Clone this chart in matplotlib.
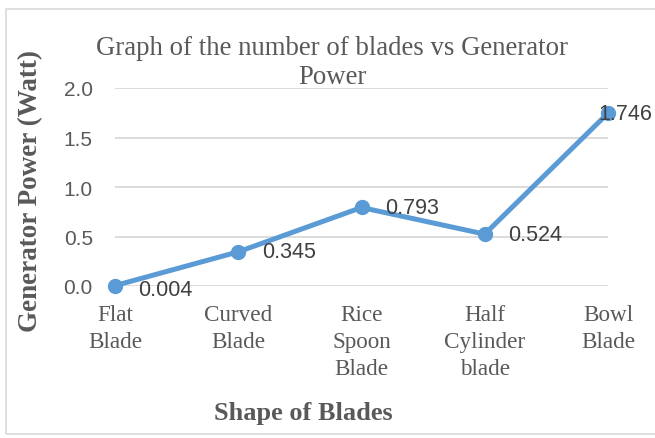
import numpy as np
import matplotlib
matplotlib.use("Agg")
import matplotlib.pyplot as plt
from matplotlib.patches import Rectangle

blades = ["Flat\nBlade", "Curved\nBlade", "Rice\nSpoon\nBlade", "Half\nCylinder\nblade", "Bowl\nBlade"]
power = [0.004, 0.345, 0.793, 0.524, 1.746]
power_labels = ["0.004", "0.345", "0.793", "0.524", "1.746"]
yticks = [0.0, 0.5, 1.0, 1.5, 2.0]

W, H = 655, 439
fig = plt.figure(figsize=(W / 100, H / 100), dpi=100)

# outer chart border
fig.add_artist(Rectangle((6 / W, 4 / H), 700 / W, (435 - 10) / H, transform=fig.transFigure,
                         fill=False, edgecolor="#d9d9d9", linewidth=1.2))

ax = fig.add_axes([115 / W, 1 - 287 / H, (608 - 115) / W, (287 - 89) / H])
x = np.arange(len(blades))
ax.plot(x, power, color="#5b9bd5", linewidth=3.6, marker="o", markersize=10,
        solid_capstyle="round", clip_on=False, zorder=3)

ax.set_xlim(0, len(blades) - 1)
ax.set_ylim(0, 2.0)
ax.set_yticks(yticks)
ax.set_yticklabels([f"{v:.1f}" for v in yticks], family="Liberation Sans", fontsize=15, color="#595959")
ax.set_xticks(x)
ax.set_xticklabels(blades, family="Liberation Serif", fontsize=16.7, color="#595959", linespacing=1.38)
ax.tick_params(axis="both", length=0)
ax.tick_params(axis="x", pad=13)
ax.tick_params(axis="y", pad=16)
ax.grid(axis="y", color="#d9d9d9", linewidth=1.3)
ax.set_axisbelow(True)
for s in ax.spines.values():
    s.set_visible(False)

for i, (v, lab) in enumerate(zip(power, power_labels)):
    dx = -7 if i == len(power) - 1 else 17
    dy = -3 if i == 0 else 0
    ax.annotate(lab, (i, v), xytext=(dx, dy), textcoords="offset points", ha="left", va="center",
                family="Liberation Sans", fontsize=15.5, color="#404040", zorder=4)

fig.text(332 / W, 1 - 63 / H, "Graph of the number of blades vs Generator\nPower", ha="center", va="center",
         multialignment="center", family="Liberation Serif", fontsize=19.3, color="#595959", linespacing=1.25)
fig.text(303 / W, 1 - 414 / H, "Shape of Blades", ha="center", va="center",
         family="Liberation Serif", fontsize=18.9, fontweight="bold", color="#595959")
fig.text(31 / W, 1 - 191 / H, "Generator Power (Watt)", ha="center", va="center", rotation=90,
         family="Liberation Serif", fontsize=19.5, fontweight="bold", color="#595959")

fig.savefig("out.png", dpi=100)
